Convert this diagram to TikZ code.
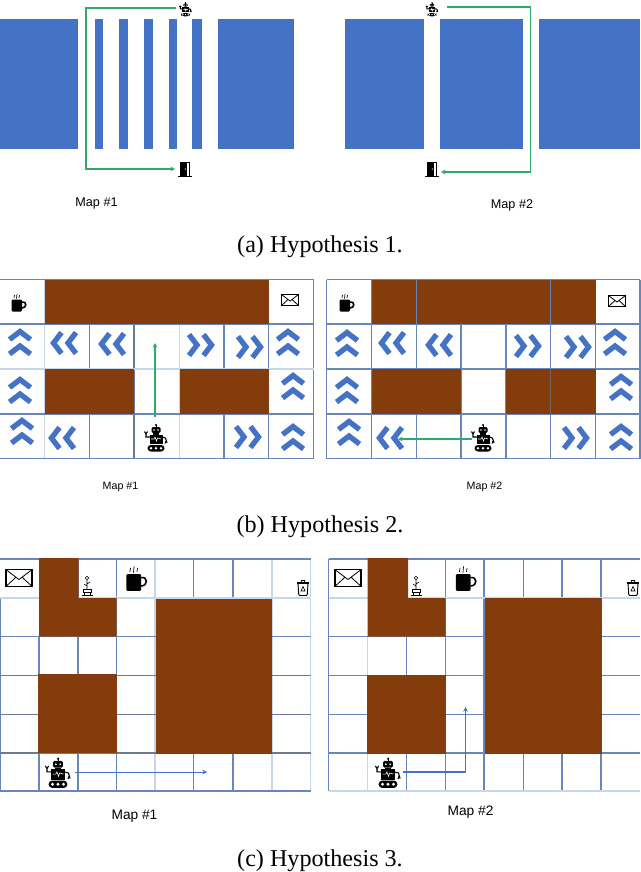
\documentclass[tikz,border=0pt]{standalone}
\usepackage{fontspec}
\setmainfont{Liberation Serif}
\newfontfamily\labelfont{Liberation Sans}
\usetikzlibrary{arrows.meta}
\definecolor{wallblue}{RGB}{68,114,196}
\definecolor{wallbrown}{RGB}{132,60,12}
\definecolor{pathgreen}{RGB}{46,170,105}
\definecolor{gridblue}{RGB}{104,135,184}
\definecolor{gridgrey}{RGB}{110,122,148}
\definecolor{gridpale}{RGB}{200,214,234}
\tikzset{
	every pic/.style={yscale=-1},
	wall/.style={fill=wallblue,draw=none},
	brick/.style={fill=wallbrown,draw=none},
	gridline/.style={draw=gridblue,line width=0.8pt},
	greyline/.style={draw=gridgrey,line width=0.9pt},
	paleline/.style={draw=gridpale,line width=0.8pt},
	route/.style={draw=pathgreen,line width=1pt,-{Stealth[length=3.5pt,width=3.5pt]}},
	blueroute/.style={route,draw=wallblue},
	maplabel/.style={font=\labelfont\fontsize{#1}{#1}\selectfont,inner sep=0pt},
	hypcaption/.style={font=\fontsize{18.1}{18}\selectfont,inner sep=0pt},
	pics/chevrons/.style={code={
		\draw [draw=wallblue,line width=4pt] (-10.5,-3.5) -- (0,-11.5) -- (10.5,-3.5) ;
		\draw [draw=wallblue,line width=4pt] (-10.5,11) -- (0,3) -- (10.5,11) ;
	}},
	pics/robot/.style={code={
		\fill [black] (0,-13) circle (1.1) ;
		\draw [line width=0.7pt] (0,-13) -- (0,-10) ;
		\fill [black,rounded corners=1] (-4.5,-11) rectangle (4.5,-5) ;
		\fill [white] (-2,-8) circle (0.9) (2,-8) circle (0.9) ;
		\fill [black] (-3,-5) rectangle (3,-3) ;
		\fill [black] (-6.5,-3.5) rectangle (6.5,6) ;
		\draw [white,line width=0.45pt] (-5,1) -- (-2,1) -- (-1,-1) -- (0.5,3) -- (1.5,0) -- (5,1) ;
		\draw [line width=0.8pt] (-6,-1) -- (-10,-1) -- (-10,-4) (-11.5,-6.5) -- (-10,-4) -- (-8.5,-6.5) ;
		\draw [line width=0.8pt] (6,-1) -- (9.5,0) -- (11,5) (9,5.5) -- (10,3) ;
		\fill [black,rounded corners=2.5] (-8.5,7) rectangle (8.5,13.5) ;
		\fill [white] (-5,10.2) circle (1.4) (0,10.2) circle (1.4) (5,10.2) circle (1.4) ;
	}},
	pics/coffee/.style={code={
		\fill [black,rounded corners=0.8] (-6.5,-3.5) rectangle (4,8.5) ;
		\draw [line width=1.2pt] (4,-1) .. controls (9,-2) and (9,5) .. (4,5) ;
		\draw [line width=0.5pt] (-4,-5) -- (-3.5,-8) (-1.5,-4.5) -- (-1,-9) (1,-5) -- (1.5,-8) ;
	}},
	pics/envelope/.style={code={
		\draw [line width=1.1pt,fill=white] (-8.5,-5.5) rectangle (8.5,5.5) ;
		\draw [line width=0.6pt] (-8.5,-5.5) -- (0,1) -- (8.5,-5.5) (-8.5,5.5) -- (-2,-0.5) (8.5,5.5) -- (2,-0.5) ;
	}},
	pics/door/.style={code={
		\fill [black] (-5,-7.5) rectangle (5,7) ;
		\fill [white] (2.2,-6) rectangle (3.6,7) ;
		\fill [white] (0.3,0) circle (0.7) ;
		\draw [line width=0.6pt] (-7,7.2) -- (7,7.2) ;
	}},
	pics/plant/.style={code={
		\draw [line width=0.45pt] (0,-9) circle (1.8) ;
		\draw [line width=0.45pt] (0,-7) -- (0,2) (0,-3) -- (3,-5) (0,-1) -- (-3,-3) ;
		\draw [line width=0.45pt] (-4,2) rectangle (4,5) (-3,5) -- (-3,8) (3,5) -- (3,8) ;
		\draw [line width=0.6pt] (-5.5,8.5) -- (5.5,8.5) ;
	}},
	pics/trashbin/.style={code={
		\draw [line width=0.7pt,rounded corners=0.8] (-5,-4.5) -- (-4.2,7.5) -- (4.2,7.5) -- (5,-4.5) ;
		\draw [line width=0.9pt] (-6,-5) -- (6,-5) ;
		\draw [line width=0.6pt] (-2,-5) -- (-1.5,-7.5) -- (1.5,-7.5) -- (2,-5) ;
		\draw [line width=0.5pt] (-2,3) -- (0,-1.5) -- (2,3) -- cycle ;
	}},
}
\begin{document}
\begin{tikzpicture}[x=0.75pt,y=0.75pt,yscale=-1,xscale=1]
	\useasboundingbox (0,0) rectangle (640,872);

	%Hypothesis 1, map 1
	\foreach \xa/\xb in {0/78,95/103,119/128,144/153,169/177,192/202,218/294}
		\fill [wall] (\xa,19) rectangle (\xb,148.5) ;
	\pic at (185.5,9.3) [scale=0.52] {robot};
	\pic at (185,169) {door};
	\coordinate (startA) at (176,8);
	\coordinate (goalA) at (175,169);
	\draw [route] (startA) -- (86,8) -- (86,169) -- (goalA) ;

	%Hypothesis 1, map 2
	\foreach \xa/\xb in {345/423.5,440/522.5,538.5/640}
		\fill [wall] (\xa,19) rectangle (\xb,148.5) ;
	\pic at (432,9.3) [scale=0.52] {robot};
	\pic at (432,169) {door};
	\coordinate (startB) at (447,7);
	\coordinate (goalB) at (441,172);
	\draw [route] (startB) -- (530.5,7) -- (530.5,172) -- (goalB) ;

	% Text Node
	\node (mapAone) [maplabel=9.5] at (96.5,203.5) {Map \#1};
	% Text Node
	\node (mapAtwo) [maplabel=9.5] at (512,205.5) {Map \#2};
	% Text Node
	\node (capA) [hypcaption] at (320,247) {(a) Hypothesis 1.};

	%Hypothesis 2, map 1
	\foreach \xx in {89.5,134,224,268.5,313.5}
		\draw [gridline] (\xx,279.5) -- (\xx,458.5) ;
	\foreach \xx in {44.5,179.5}
		\draw [paleline] (\xx,279.5) -- (\xx,458.5) ;
	\draw [greyline] (134,324) -- (134,458.5) ;
	\foreach \yy in {279.5,324,414,458.5}
		\draw [gridline] (0,\yy) -- (313.5,\yy) ;
	\draw [paleline] (0,369) -- (313.5,369) ;
	\fill [brick] (44.5,279.5) rectangle (268.5,324) ;
	\fill [brick] (44.5,369) rectangle (134,414) ;
	\fill [brick] (179.5,369) rectangle (268.5,414) ;
	\foreach \px/\py/\rot in {20/343/0,288/343/0,20/391/0,293/387/0,22/432/0,293/438/0,65/343/90,113/344/90,63/438/90,200/345/-90,249/347/-90,247/437/-90}
		\pic at (\px,\py) [rotate=\rot] {chevrons};
	\pic at (18,303) {coffee};
	\pic at (290,300) {envelope};
	\pic at (156,438) {robot};
	\coordinate (startC) at (155,417);
	\coordinate (goalC) at (155,343);
	\draw [route,line width=1.5pt] (startC) -- (goalC) ;

	%Hypothesis 2, map 2
	\foreach \xx in {326.5,416.5,461,550.5,640}
		\draw [gridline] (\xx,279.5) -- (\xx,458.5) ;
	\foreach \xx in {371.5,506,595.5}
		\draw [gridline] (\xx,279.5) -- (\xx,458.5) ;
	\foreach \yy in {279.5,324,369,414,458.5}
		\draw [gridline] (326.5,\yy) -- (640,\yy) ;
	\fill [brick] (371.5,279.5) rectangle (595.5,324) ;
	\fill [brick] (372,369) rectangle (461,414) ;
	\fill [brick] (506,369) rectangle (595.5,414) ;
	\foreach \xx in {416.5,550.5}
		\draw [gridline] (\xx,279.5) -- (\xx,324) ;
	\draw [gridline,draw opacity=0.6] (371.5,279.5) -- (371.5,324) ;
	\draw [gridline,draw opacity=0.5] (550.5,369) -- (550.5,414) ;
	\foreach \px/\py/\rot in {347/344/0,615/343/0,347/391/0,621/388/0,349/433/0,621/438/0,393/343/90,440/345/90,391/438/90,527/346/-90,577/347/-90,575/438/-90}
		\pic at (\px,\py) [rotate=\rot] {chevrons};
	\pic at (346,303) {coffee};
	\pic at (617,301) {envelope};
	\pic at (483,438) {robot};
	\coordinate (startD) at (472,439);
	\coordinate (goalD) at (398,439);
	\draw [route] (startD) -- (goalD) ;

	% Text Node
	\node (mapBone) [maplabel=8] at (120.5,486.5) {Map \#1};
	% Text Node
	\node (mapBtwo) [maplabel=8] at (484.5,486.5) {Map \#2};
	% Text Node
	\node (capB) [hypcaption] at (320,527) {(b) Hypothesis 2.};

	%Hypothesis 3, map 1
	\foreach \xx in {78,116.5,193.5,233}
		\draw [gridline] (\xx,559) -- (\xx,791) ;
	\draw [greyline] (155,559) -- (155,598) ;
	\foreach \xx in {155,272,310.5}
		\draw [paleline] (\xx,559) -- (\xx,791) ;
	\draw [gridline] (0,598) -- (0,791) ;
	\draw [gridline] (39,636.5) -- (39,791) ;
	\draw [gridline] (0,559) -- (310.5,559) ;
	\draw [paleline] (0,598) -- (310.5,598) ;
	\draw [gridline] (0,636.5) -- (310.5,636.5) ;
	\foreach \yy in {675.5,714.5,753}
		\draw [greyline] (0,\yy) -- (310.5,\yy) ;
	\draw [gridline] (0,791) -- (310.5,791) ;
	\fill [brick] (39,558) -- (78.5,558) -- (78.5,598) -- (116.5,598) -- (116.5,636.5) -- (39,636.5) -- cycle ;
	\fill [brick] (38,674) rectangle (117,752.5) ;
	\fill [brick] (156,598.5) rectangle (272,753.5) ;
	\pic at (19,578) [scale=1.55] {envelope};
	\pic at (87,587) {plant};
	\pic at (135.5,579) [scale=1.4] {coffee};
	\pic at (303,588) {trashbin};
	\pic at (58,773) [scale=1.1] {robot};
	\coordinate (startE) at (75,772);
	\coordinate (goalE) at (207,772);
	\draw [blueroute,line width=0.75pt] (startE) -- (goalE) ;

	%Hypothesis 3, map 2
	\foreach \xx in {328.5,406.5,445.5,484,523.5,562,601}
		\draw [gridline] (\xx,559) -- (\xx,791) ;
	\draw [paleline] (367.5,636.5) -- (367.5,791) ;
	\foreach \yy in {636.5,675.5,714.5,753}
		\draw [gridline] (328.5,\yy) -- (640,\yy) ;
	\draw [gridline] (328.5,559) -- (640,559) ;
	\draw [paleline] (328.5,598) -- (640,598) ;
	\draw [paleline] (328.5,791) -- (640,791) ;
	\fill [brick] (367.5,558) -- (408,558) -- (408,598) -- (445.5,598) -- (445.5,636.5) -- (367.5,636.5) -- cycle ;
	\fill [brick] (367,675) rectangle (445.5,753.5) ;
	\fill [brick] (484.5,598) rectangle (602,753.5) ;
	\pic at (348,578) [scale=1.55] {envelope};
	\pic at (416,587) {plant};
	\pic at (465,579) [scale=1.4] {coffee};
	\pic at (633,588) {trashbin};
	\pic at (388,773) [scale=1.1] {robot};
	\coordinate (startF) at (403,772);
	\coordinate (goalF) at (465.5,707);
	\draw [blueroute] (startF) -- (465.5,772) -- (goalF) ;

	% Text Node
	\node (mapCone) [maplabel=10.3] at (134.5,816) {Map \#1};
	% Text Node
	\node (mapCtwo) [maplabel=10.3] at (470.5,812) {Map \#2};
	% Text Node
	\node (capC) [hypcaption] at (320,860.5) {(c) Hypothesis 3.};

\end{tikzpicture}
\end{document}
